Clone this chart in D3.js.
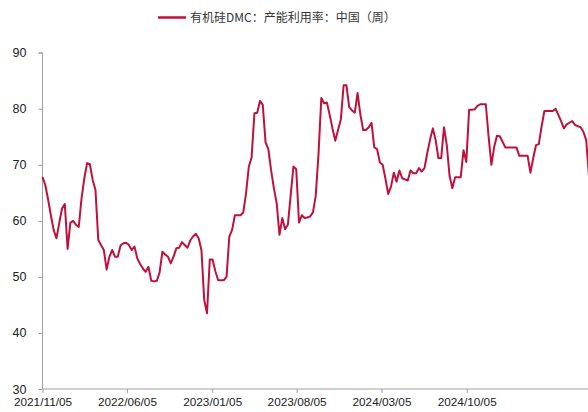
<!DOCTYPE html>
<html>
<head>
<meta charset="utf-8">
<script src="https://cdn.jsdelivr.net/npm/d3@7"></script>
<style>
  body { margin: 0; background: #fff; }
  .axis path, .axis line { stroke: #a0a0a0; }
  .axis text { font-family: "Liberation Sans", Arial, sans-serif; fill: #222; }
</style>
</head>
<body>
<svg width="588" height="412"></svg>
<script>
var svg = d3.select("svg"),
    width = +svg.attr("width"),
    height = +svg.attr("height");

// weekly series, starting 2021/11/05
var startDate = "2021-11-05";
var seriesName = "有机硅DMC：产能利用率：中国（周）";
var values = [
  67.8, 66.4, 63.8, 61.0, 58.4, 56.9, 59.6, 62.2, 63.0, 55.0,
  59.7, 60.0, 59.3, 58.9, 64.0, 67.6, 70.3, 70.1, 67.3, 65.5,
  56.6, 55.7, 54.8, 51.3, 53.6, 54.8, 53.6, 53.6, 55.6, 56.0,
  56.1, 55.7, 54.8, 55.4, 53.3, 52.3, 51.5, 50.9, 51.8, 49.3,
  49.2, 49.3, 50.8, 54.5, 54.0, 53.6, 52.4, 53.6, 55.1, 55.2,
  56.2, 55.7, 55.2, 56.5, 57.2, 57.7, 56.9, 54.8, 45.9, 43.5,
  53.1, 53.1, 51.0, 49.4, 49.4, 49.4, 50.0, 57.2, 58.4, 61.0,
  61.0, 61.0, 61.5, 64.9, 69.7, 71.3, 79.2, 79.3, 81.4, 80.7,
  74.0, 72.8, 69.0, 65.8, 63.1, 57.5, 60.5, 58.5, 59.3, 64.5,
  69.7, 69.2, 59.7, 61.0, 60.5, 60.6, 60.8, 61.5, 64.5, 72.0,
  81.9, 81.0, 81.1, 78.9, 76.5, 74.3, 76.2, 78.1, 84.2, 84.2,
  80.3, 79.7, 79.3, 82.8, 79.0, 76.2, 76.2, 76.7, 77.5, 73.1,
  72.8, 70.4, 70.0, 67.5, 64.8, 66.1, 68.6, 67.0, 69.0, 67.6,
  67.4, 67.2, 69.0, 68.5, 68.5, 69.4, 68.8, 69.4, 72.1, 74.5,
  76.5, 74.4, 71.2, 71.2, 76.7, 73.5, 68.0, 65.8, 67.8, 67.8,
  67.8, 72.6, 70.5, 79.8, 79.8, 79.9, 80.5, 80.8, 80.8, 80.8,
  75.0, 70.0, 73.2, 75.2, 75.1, 74.1, 73.1, 73.1, 73.1, 73.1,
  73.1, 71.6, 71.6, 71.6, 71.6, 68.6, 71.2, 73.5, 73.7, 76.8,
  79.6, 79.6, 79.6, 79.6, 80.0, 78.9, 77.8, 76.5, 77.2, 77.5,
  77.8, 77.1, 76.9, 76.7, 75.9, 74.4, 68.0
];
var xTickLabels = ["2021/11/05", "2022/06/05", "2023/01/05", "2023/08/05", "2024/03/05", "2024/10/05"];
var yTicks = [30, 40, 50, 60, 70, 80, 90];

var parse = d3.utcParse("%Y-%m-%d"),
    parseTick = d3.utcParse("%Y/%m/%d"),
    fmt = d3.utcFormat("%Y/%m/%d");

var t0 = parse(startDate);
var data = values.map(function(v, i) {
  return { date: d3.utcDay.offset(t0, 7 * i), value: v };
});

var x = d3.scaleUtc()
    .domain([parseTick(xTickLabels[0]), parseTick(xTickLabels[5])])
    .range([42.5, 466.7]);

var y = d3.scaleLinear()
    .domain([30, 90])
    .range([389, 52.7]);

// axes
var yAxis = svg.append("g")
    .attr("class", "axis")
    .attr("transform", "translate(42.5,0)")
    .call(d3.axisLeft(y).tickValues(yTicks).tickSize(4).tickPadding(12));
yAxis.select(".domain")
    .attr("d", "M-4," + y(90) + "H0V" + y(30));
yAxis.selectAll("text").attr("font-size", "12.5px");

var xAxis = svg.append("g")
    .attr("class", "axis")
    .attr("transform", "translate(0," + y(30) + ")")
    .call(d3.axisBottom(x)
      .tickValues(xTickLabels.map(parseTick))
      .tickFormat(fmt)
      .tickSize(4)
      .tickPadding(5));
xAxis.select(".domain")
    .attr("d", "M42.5,0H" + width);
xAxis.selectAll("text").attr("font-size", "11.8px");

// line
var line = d3.line()
    .x(function(d) { return x(d.date); })
    .y(function(d) { return y(d.value); });

svg.append("path")
    .datum(data)
    .attr("fill", "none")
    .attr("stroke", "#c0103c")
    .attr("stroke-width", 2)
    .attr("stroke-linejoin", "round")
    .attr("d", line);

// legend
var lg = svg.append("g").attr("transform", "translate(158,17.5)");
lg.append("line")
    .attr("x1", 0).attr("x2", 28)
    .attr("stroke", "#c0103c")
    .attr("stroke-width", 2.5);
lg.append("text")
    .attr("x", 32)
    .attr("y", 4.2)
    .attr("font-family", "'Noto Sans CJK SC', sans-serif")
    .attr("font-size", "12px")
    .attr("fill", "#333")
    .text(seriesName);
</script>
</body>
</html>
